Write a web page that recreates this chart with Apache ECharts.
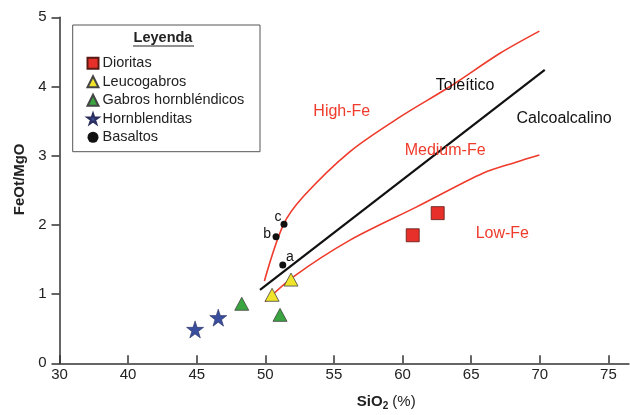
<!DOCTYPE html>
<html>
<head>
<meta charset="utf-8">
<script src="https://cdn.jsdelivr.net/npm/echarts@6/dist/echarts.min.js"></script>
<style>
html,body{margin:0;padding:0;background:#fff;}
#chart{width:630px;height:415px;}
</style>
</head>
<body>
<div id="chart"></div>
<script>
// ---- data ----
var xTickValues = [35, 40, 45, 50, 55, 60, 65, 70, 75];
var xTickLabels = ['30', '40', '45', '50', '55', '60', '65', '70', '75'];
var yTickValues = [0, 1, 2, 3, 4, 5];

var dioritas = [[60.74, 1.85], [62.56, 2.17]];
var leucogabros = [[50.49, 0.99], [51.87, 1.21]];
var gabrosHornblendicos = [[48.28, 0.86], [51.07, 0.70]];
var hornblenditas = [[44.88, 0.49], [46.57, 0.66]];
var basaltos = [[51.27, 1.42], [50.78, 1.83], [51.36, 2.01]];
var basaltoLabels = ['a', 'b', 'c'];

var highFeCurve = [[49.93, 1.19], [51.31, 2.00], [52.77, 2.41], [56.17, 3.06], [59.82, 3.56], [63.46, 4.00], [67.10, 4.48], [69.97, 4.80]];
var mediumFeCurve = [[49.98, 0.89], [52.04, 1.25], [56.17, 1.78], [61.03, 2.26], [65.89, 2.75], [68.32, 2.91], [69.97, 3.01]];
var tholeiiticDivide = [[49.61, 1.06], [70.36, 4.24]];

var fieldNames = ['High-Fe', 'Toleítico', 'Calcoalcalino', 'Medium-Fe', 'Low-Fe'];
var fieldPositions = [[55.57, 3.64], [64.56, 4.02], [71.77, 3.53], [63.1, 3.07], [67.27, 1.88]];

var legendNames = ['Dioritas', 'Leucogabros', 'Gabros hornbléndicos', 'Hornblenditas', 'Basaltos'];

// ---- chart ----
var RED = '#ee3b2b';
var STAR = 'path://M50,0 L61.8,35.3 L99,35.3 L69,57.4 L80.4,92.7 L50,70.9 L19.6,92.7 L31,57.4 L1,35.3 L38.2,35.3 Z';
var fieldColors = [RED, '#111', '#111', RED, RED];
var basaltLabelOffsets = {a: [7, -8], b: [-9, -3], c: [-6, -7]};
var FONT = 'Liberation Sans, Arial, Helvetica, sans-serif';

var chart = echarts.init(document.getElementById('chart'), null, {renderer: 'canvas'});

var fieldData = fieldNames.map(function (n, i) {
  return {
    name: n,
    value: fieldPositions[i],
    label: {color: fieldColors[i]}
  };
});

var basaltData = basaltos.map(function (p, i) {
  return {
    name: basaltoLabels[i],
    value: p,
    label: {show: true, formatter: basaltoLabels[i], position: 'inside', offset: basaltLabelOffsets[basaltoLabels[i]], color: '#111', fontSize: 14, fontFamily: FONT}
  };
});

var option = {
  animation: false,
  backgroundColor: '#fff',
  grid: {left: 59.5, right: 1, top: 17.3, bottom: 51.7, containLabel: false, outerBoundsMode: 'none'},
  xAxis: {
    type: 'value',
    min: 35, max: 76.5,
    name: '{b|SiO}{s|2}{n| (%)}',
    nameLocation: 'middle',
    nameGap: 29,
    nameTextStyle: {
      padding: [0, 0, 0, 84],
      rich: {
        b: {fontSize: 15, fontWeight: 'bold', color: '#222', fontFamily: FONT},
        s: {fontSize: 10, fontWeight: 'bold', color: '#222', fontFamily: FONT, padding: [9, 0, 0, 0]},
        n: {fontSize: 15, color: '#222', fontFamily: FONT}
      }
    },
    axisLine: {show: true, onZero: false, lineStyle: {color: '#333', width: 1.5}},
    axisTick: {show: true, inside: true, length: 8, customValues: xTickValues, lineStyle: {color: '#333', width: 1.5}},
    axisLabel: {
      customValues: xTickValues,
      margin: 4,
      fontSize: 15,
      color: '#222',
      fontFamily: FONT,
      formatter: function (v) {
        var i = xTickValues.indexOf(v);
        return i >= 0 ? xTickLabels[i] : '';
      }
    },
    splitLine: {show: false}
  },
  yAxis: {
    type: 'value',
    min: 0, max: 5, interval: 1,
    name: 'FeOt/MgO',
    nameLocation: 'middle',
    nameGap: 32,
    nameRotate: 90,
    nameTextStyle: {fontSize: 15, fontWeight: 'bold', color: '#222', fontFamily: FONT, padding: [0, 0, 0, 22]},
    axisLine: {show: true, onZero: false, lineStyle: {color: '#333', width: 1.5}},
    axisTick: {show: true, inside: false, length: 8, lineStyle: {color: '#333', width: 1.5}},
    axisLabel: {
      margin: 13, fontSize: 15, color: '#222', fontFamily: FONT,
      formatter: function (v) { return yTickValues.indexOf(v) >= 0 ? String(v) : ''; }
    },
    splitLine: {show: false}
  },
  legend: {
    show: true,
    data: legendNames,
    orient: 'vertical',
    left: 86.5,
    top: 55,
    itemWidth: 11,
    itemHeight: 11,
    itemGap: 2,
    padding: 0,
    selectedMode: false,
    textStyle: {fontSize: 14.5, lineHeight: 16.5, color: '#222', fontFamily: FONT, padding: [0, 0, 0, -1]}
  },
  graphic: [
    {type: 'rect', shape: {x: 72.7, y: 25, width: 187.3, height: 126.7}, style: {fill: 'none', stroke: '#555', lineWidth: 1}, z: 1},
    {type: 'text', x: 163, y: 38, style: {text: 'Leyenda', font: 'bold 14.5px ' + FONT, fill: '#222', align: 'center', verticalAlign: 'middle'}, z: 2},
    {type: 'line', shape: {x1: 133, y1: 46, x2: 194, y2: 46}, style: {stroke: '#222', lineWidth: 1.2}, z: 2}
  ],
  series: [
    {
      name: 'High-Fe line', type: 'line', data: highFeCurve, smooth: 0.3, showSymbol: false, symbol: 'none',
      lineStyle: {color: RED, width: 1.6}, z: 2, silent: true
    },
    {
      name: 'Medium-Fe line', type: 'line', data: mediumFeCurve, smooth: 0.3, showSymbol: false, symbol: 'none',
      lineStyle: {color: RED, width: 1.6}, z: 2, silent: true
    },
    {
      name: 'Divide', type: 'line', data: tholeiiticDivide, showSymbol: false, symbol: 'none',
      lineStyle: {color: '#111', width: 2.2}, z: 2, silent: true
    },
    {
      name: 'Fields', type: 'scatter', data: fieldData, symbol: 'circle', symbolSize: 1, silent: true,
      itemStyle: {color: 'rgba(0,0,0,0)', opacity: 1},
      label: {show: true, position: 'inside', formatter: '{b}', fontSize: 16, fontFamily: FONT, opacity: 1}, z: 3
    },
    {
      name: 'Dioritas', type: 'scatter', data: dioritas, symbol: 'rect', symbolSize: 13,
      itemStyle: {color: '#e8302a', borderColor: '#5a1a14', borderWidth: 0.8, opacity: 1}, z: 5
    },
    {
      name: 'Leucogabros', type: 'scatter', data: leucogabros, symbol: 'triangle', symbolSize: [14, 13],
      itemStyle: {color: '#f0e42a', borderColor: '#444', borderWidth: 0.8, opacity: 1}, z: 5
    },
    {
      name: 'Gabros hornbléndicos', type: 'scatter', data: gabrosHornblendicos, symbol: 'triangle', symbolSize: [14, 13],
      itemStyle: {color: '#3aa441', borderColor: '#444', borderWidth: 0.8, opacity: 1}, z: 5
    },
    {
      name: 'Hornblenditas', type: 'scatter', data: hornblenditas, symbol: STAR, symbolSize: 17,
      itemStyle: {color: '#3a4e9e', borderColor: '#2a2f5e', borderWidth: 0.6, opacity: 1}, z: 5
    },
    {
      name: 'Basaltos', type: 'scatter', data: basaltData, symbol: 'circle', symbolSize: 7,
      itemStyle: {color: '#111', opacity: 1}, z: 5
    }
  ]
};
chart.setOption(option);
</script>
</body>
</html>
